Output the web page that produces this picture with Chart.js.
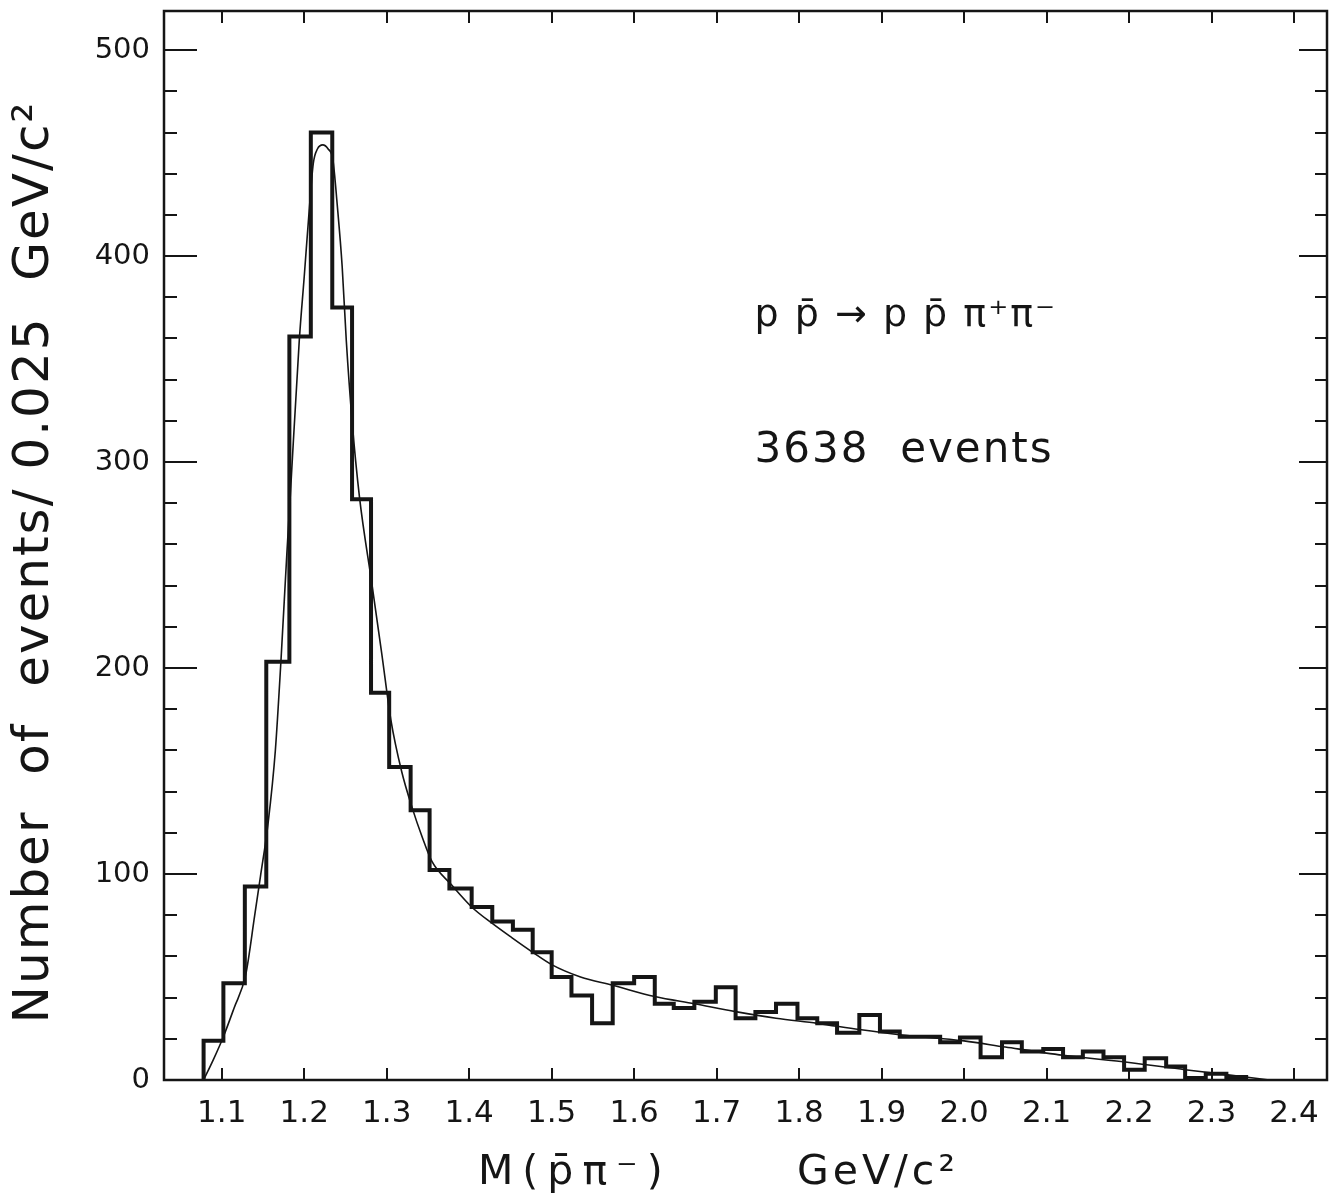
<!DOCTYPE html>
<html>
<head>
<meta charset="utf-8">
<script src="https://cdn.jsdelivr.net/npm/chart.js@4.4.0/dist/chart.umd.min.js"></script>
<style>
  html, body { margin: 0; padding: 0; background: #fff; }
</style>
</head>
<body>
<canvas id="mass-chart" width="1344" height="1203"></canvas>
<script>
// histogram bin edges (GeV/c^2) as drawn on the plot, and counts per bin
var binEdges = [1.078, 1.102, 1.128, 1.154, 1.182, 1.208, 1.234, 1.258, 1.281, 1.303,
  1.329, 1.352, 1.376, 1.403, 1.428, 1.453, 1.477, 1.500, 1.524, 1.549,
  1.574, 1.600, 1.625, 1.648, 1.673, 1.699, 1.723, 1.747, 1.772, 1.798,
  1.822, 1.846, 1.873, 1.898, 1.922, 1.946, 1.971, 1.995, 2.020, 2.046,
  2.070, 2.096, 2.120, 2.144, 2.169, 2.194, 2.219, 2.245, 2.268, 2.293,
  2.318, 2.342]
var binCounts = [19, 47, 94, 203, 361, 460, 375, 282, 188, 152,
  131, 102, 93, 84, 77, 73, 62, 50, 41, 27.5,
  47, 50, 37, 35, 38, 45, 30, 33, 37, 30,
  27.5, 23, 31.5, 23.5, 21, 21, 18.3, 20.6, 11, 18.3,
  13.8, 15, 11, 13.8, 11, 5, 10.5, 6.5, 1, 3, 1.5]

// fitted curve
var fitMass = [1.078, 1.09, 1.102, 1.115, 1.129, 1.14, 1.147, 1.156, 1.165, 1.172,
  1.179, 1.183, 1.194, 1.2, 1.206, 1.211, 1.216, 1.2225, 1.229, 1.2347,
  1.24, 1.246, 1.251, 1.258, 1.267, 1.282, 1.294, 1.305, 1.318, 1.331,
  1.343, 1.355, 1.378, 1.403, 1.428, 1.452, 1.477, 1.5, 1.535, 1.574,
  1.625, 1.673, 1.723, 1.772, 1.822, 1.873, 1.922, 2.0, 2.05, 2.12,
  2.2, 2.268, 2.32, 2.37]
var fitCounts = [0, 10, 21, 35, 51, 80, 99, 124, 160, 205,
  256, 283, 359, 390, 422, 445, 452, 454, 452, 447,
  425, 395, 359, 320, 283, 241, 207, 175, 150, 132,
  118, 106, 95, 84, 76, 69, 62, 56, 50, 46,
  40.5, 37, 33.2, 30, 27.5, 24.5, 22, 19, 16, 12,
  8.5, 5, 2.5, 0]

var xTicks = [1.1, 1.2, 1.3, 1.4, 1.5, 1.6, 1.7, 1.8, 1.9, 2.0, 2.1, 2.2, 2.3, 2.4]
var yTicks = [0, 100, 200, 300, 400, 500]

var yTitle = 'Number  of  events/ 0.025  GeV/c\u00b2'
var xTitleMass = 'M(p\u0304\u03c0\u207b)'
var xTitleUnit = 'GeV/c\u00b2'
var reactionText = 'p p\u0304 \u2192 p p\u0304 \u03c0\u207a\u03c0\u207b'
var eventsText = '3638  events'

var ink = '#151515'
var fontFamily = '"DejaVu Sans", sans-serif'

// step outline of the histogram built from the bins
var histPoints = [{ x: binEdges[0], y: 0 }]
binCounts.forEach(function (c, i) {
  histPoints.push({ x: binEdges[i], y: c })
})
histPoints.push({ x: binEdges[binEdges.length - 1], y: 0 })

var fitPoints = fitMass.map(function (m, i) {
  return { x: m, y: fitCounts[i] }
})

// frame, inward ticks and the free text
var framePlugin = {
  id: 'framePlugin',
  afterDatasetsDraw: function (chart) {
    var ctx = chart.ctx
    var a = chart.chartArea
    var sx = chart.scales.x
    var sy = chart.scales.y
    ctx.save()
    ctx.strokeStyle = ink
    ctx.lineWidth = 2.5
    ctx.strokeRect(a.left, a.top, a.right - a.left, a.bottom - a.top)

    ctx.lineWidth = 2
    ctx.beginPath()
    xTicks.forEach(function (v) {
      var px = Math.round(sx.getPixelForValue(v))
      ctx.moveTo(px, a.bottom); ctx.lineTo(px, a.bottom - 12)
      ctx.moveTo(px, a.top); ctx.lineTo(px, a.top + 12)
    })
    for (var v = 0; v <= 500; v += 20) {
      var py = Math.round(sy.getPixelForValue(v))
      var major = v % 100 === 0
      ctx.moveTo(a.left, py); ctx.lineTo(a.left + (major ? 33 : 13), py)
      ctx.moveTo(a.right, py); ctx.lineTo(a.right - (major ? 28 : 12), py)
    }
    ctx.stroke()

    ctx.fillStyle = ink
    ctx.textAlign = 'left'
    ctx.textBaseline = 'alphabetic'
    ctx.font = '38px ' + fontFamily
    ctx.letterSpacing = '2px'
    ctx.fillText(reactionText, sx.getPixelForValue(1.746), sy.getPixelForValue(366))
    ctx.font = '42px ' + fontFamily
    ctx.fillText(eventsText, sx.getPixelForValue(1.746), sy.getPixelForValue(300))

    // axis titles
    ctx.font = '41px ' + fontFamily
    ctx.letterSpacing = '9px'
    ctx.fillText(xTitleMass, 478, 1184)
    ctx.letterSpacing = '4px'
    ctx.fillText(xTitleUnit, 797, 1184)

    ctx.save()
    ctx.translate(48, 562)
    ctx.rotate(-Math.PI / 2)
    ctx.textAlign = 'center'
    ctx.font = '50px ' + fontFamily
    ctx.letterSpacing = '2px'
    ctx.fillText(yTitle, 0, 0)
    ctx.restore()

    ctx.restore()
  }
}

var massChart = new Chart(document.getElementById('mass-chart').getContext('2d'), {
  type: 'line',
  data: {
    datasets: [
      {
        label: 'events',
        data: histPoints,
        stepped: true,
        borderColor: ink,
        borderWidth: 4,
        borderJoinStyle: 'miter',
        pointRadius: 0,
        fill: false
      },
      {
        label: 'fit',
        data: fitPoints,
        cubicInterpolationMode: 'monotone',
        borderColor: ink,
        borderWidth: 1.6,
        pointRadius: 0,
        fill: false
      }
    ]
  },
  options: {
    responsive: false,
    animation: false,
    layout: { padding: { left: 0, right: 17, top: 11, bottom: 0 } },
    plugins: {
      legend: { display: false },
      tooltip: { enabled: false }
    },
    scales: {
      x: {
        type: 'linear',
        min: 1.03,
        max: 2.44,
        afterFit: function (s) {
          s.height = 123
          s.paddingLeft = 0
          s.paddingRight = 0
        },
        afterBuildTicks: function (s) {
          s.ticks = xTicks.map(function (v) { return { value: v } })
        },
        grid: { display: false, drawTicks: false },
        border: { display: false },
        ticks: {
          padding: 15,
          color: ink,
          font: { family: fontFamily, size: 31 },
          maxRotation: 0,
          callback: function (v) { return Number(v).toFixed(1) }
        }
      },
      y: {
        type: 'linear',
        min: 0,
        max: 519,
        afterFit: function (s) {
          s.width = 164
          s.paddingTop = 0
          s.paddingBottom = 0
        },
        afterBuildTicks: function (s) {
          s.ticks = yTicks.map(function (v) { return { value: v } })
        },
        grid: { display: false, drawTicks: false },
        border: { display: false },
        ticks: {
          padding: 14,
          color: ink,
          font: { family: fontFamily, size: 29 },
          callback: function (v) { return String(v) }
        }
      }
    }
  },
  plugins: [framePlugin]
})
</script>
</body>
</html>
